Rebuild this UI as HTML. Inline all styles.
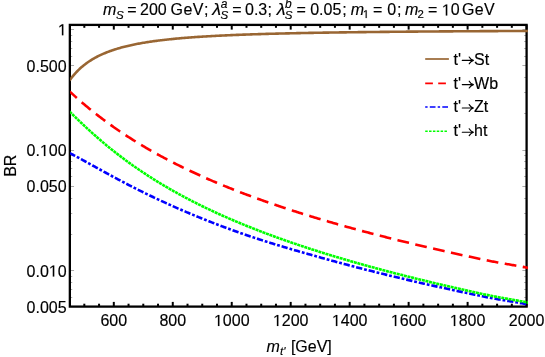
<!DOCTYPE html>
<html><head><meta charset="utf-8"><title>BR plot</title>
<style>html,body{margin:0;padding:0;background:#fff;}svg{display:block;will-change:transform;}text{font-family:"Liberation Sans",sans-serif;fill:#000;stroke:#000;stroke-width:0.15px;}</style></head><body>
<svg width="545" height="357" viewBox="0 0 545 357">
<rect x="0" y="0" width="545" height="357" fill="#fff"/>
<defs><clipPath id="c"><rect x="70.14999999999999" y="24.9" width="457.75" height="282.70000000000005"/></clipPath></defs>
<g stroke="#000" stroke-width="2"><line x1="84.32" y1="306.6" x2="84.32" y2="303.70000000000005"/><line x1="84.32" y1="24.9" x2="84.32" y2="27.799999999999997"/><line x1="99.06" y1="306.6" x2="99.06" y2="303.70000000000005"/><line x1="99.06" y1="24.9" x2="99.06" y2="27.799999999999997"/><line x1="113.80" y1="306.6" x2="113.80" y2="301.90000000000003"/><line x1="113.80" y1="24.9" x2="113.80" y2="29.599999999999998"/><line x1="128.54" y1="306.6" x2="128.54" y2="303.70000000000005"/><line x1="128.54" y1="24.9" x2="128.54" y2="27.799999999999997"/><line x1="143.28" y1="306.6" x2="143.28" y2="303.70000000000005"/><line x1="143.28" y1="24.9" x2="143.28" y2="27.799999999999997"/><line x1="158.03" y1="306.6" x2="158.03" y2="303.70000000000005"/><line x1="158.03" y1="24.9" x2="158.03" y2="27.799999999999997"/><line x1="172.77" y1="306.6" x2="172.77" y2="301.90000000000003"/><line x1="172.77" y1="24.9" x2="172.77" y2="29.599999999999998"/><line x1="187.51" y1="306.6" x2="187.51" y2="303.70000000000005"/><line x1="187.51" y1="24.9" x2="187.51" y2="27.799999999999997"/><line x1="202.25" y1="306.6" x2="202.25" y2="303.70000000000005"/><line x1="202.25" y1="24.9" x2="202.25" y2="27.799999999999997"/><line x1="216.99" y1="306.6" x2="216.99" y2="303.70000000000005"/><line x1="216.99" y1="24.9" x2="216.99" y2="27.799999999999997"/><line x1="231.74" y1="306.6" x2="231.74" y2="301.90000000000003"/><line x1="231.74" y1="24.9" x2="231.74" y2="29.599999999999998"/><line x1="246.48" y1="306.6" x2="246.48" y2="303.70000000000005"/><line x1="246.48" y1="24.9" x2="246.48" y2="27.799999999999997"/><line x1="261.22" y1="306.6" x2="261.22" y2="303.70000000000005"/><line x1="261.22" y1="24.9" x2="261.22" y2="27.799999999999997"/><line x1="275.96" y1="306.6" x2="275.96" y2="303.70000000000005"/><line x1="275.96" y1="24.9" x2="275.96" y2="27.799999999999997"/><line x1="290.70" y1="306.6" x2="290.70" y2="301.90000000000003"/><line x1="290.70" y1="24.9" x2="290.70" y2="29.599999999999998"/><line x1="305.45" y1="306.6" x2="305.45" y2="303.70000000000005"/><line x1="305.45" y1="24.9" x2="305.45" y2="27.799999999999997"/><line x1="320.19" y1="306.6" x2="320.19" y2="303.70000000000005"/><line x1="320.19" y1="24.9" x2="320.19" y2="27.799999999999997"/><line x1="334.93" y1="306.6" x2="334.93" y2="303.70000000000005"/><line x1="334.93" y1="24.9" x2="334.93" y2="27.799999999999997"/><line x1="349.67" y1="306.6" x2="349.67" y2="301.90000000000003"/><line x1="349.67" y1="24.9" x2="349.67" y2="29.599999999999998"/><line x1="364.41" y1="306.6" x2="364.41" y2="303.70000000000005"/><line x1="364.41" y1="24.9" x2="364.41" y2="27.799999999999997"/><line x1="379.16" y1="306.6" x2="379.16" y2="303.70000000000005"/><line x1="379.16" y1="24.9" x2="379.16" y2="27.799999999999997"/><line x1="393.90" y1="306.6" x2="393.90" y2="303.70000000000005"/><line x1="393.90" y1="24.9" x2="393.90" y2="27.799999999999997"/><line x1="408.64" y1="306.6" x2="408.64" y2="301.90000000000003"/><line x1="408.64" y1="24.9" x2="408.64" y2="29.599999999999998"/><line x1="423.38" y1="306.6" x2="423.38" y2="303.70000000000005"/><line x1="423.38" y1="24.9" x2="423.38" y2="27.799999999999997"/><line x1="438.12" y1="306.6" x2="438.12" y2="303.70000000000005"/><line x1="438.12" y1="24.9" x2="438.12" y2="27.799999999999997"/><line x1="452.87" y1="306.6" x2="452.87" y2="303.70000000000005"/><line x1="452.87" y1="24.9" x2="452.87" y2="27.799999999999997"/><line x1="467.61" y1="306.6" x2="467.61" y2="301.90000000000003"/><line x1="467.61" y1="24.9" x2="467.61" y2="29.599999999999998"/><line x1="482.35" y1="306.6" x2="482.35" y2="303.70000000000005"/><line x1="482.35" y1="24.9" x2="482.35" y2="27.799999999999997"/><line x1="497.09" y1="306.6" x2="497.09" y2="303.70000000000005"/><line x1="497.09" y1="24.9" x2="497.09" y2="27.799999999999997"/><line x1="511.83" y1="306.6" x2="511.83" y2="303.70000000000005"/><line x1="511.83" y1="24.9" x2="511.83" y2="27.799999999999997"/><line x1="526.58" y1="306.6" x2="526.58" y2="301.90000000000003"/><line x1="526.58" y1="24.9" x2="526.58" y2="29.599999999999998"/></g>
<g stroke="#555" stroke-width="0.5"><line x1="69.85" y1="29.50" x2="74.05" y2="29.50"/><line x1="526.6" y1="29.50" x2="522.4" y2="29.50"/><line x1="69.85" y1="65.50" x2="74.05" y2="65.50"/><line x1="526.6" y1="65.50" x2="522.4" y2="65.50"/><line x1="69.85" y1="150.50" x2="74.05" y2="150.50"/><line x1="526.6" y1="150.50" x2="522.4" y2="150.50"/><line x1="69.85" y1="186.50" x2="74.05" y2="186.50"/><line x1="526.6" y1="186.50" x2="522.4" y2="186.50"/><line x1="69.85" y1="270.50" x2="74.05" y2="270.50"/><line x1="526.6" y1="270.50" x2="522.4" y2="270.50"/><line x1="69.85" y1="306.50" x2="74.05" y2="306.50"/><line x1="526.6" y1="306.50" x2="522.4" y2="306.50"/><line x1="69.85" y1="35.50" x2="72.25" y2="35.50"/><line x1="526.6" y1="35.50" x2="524.2" y2="35.50"/><line x1="69.85" y1="41.50" x2="72.25" y2="41.50"/><line x1="526.6" y1="41.50" x2="524.2" y2="41.50"/><line x1="69.85" y1="48.50" x2="72.25" y2="48.50"/><line x1="526.6" y1="48.50" x2="524.2" y2="48.50"/><line x1="69.85" y1="56.50" x2="72.25" y2="56.50"/><line x1="526.6" y1="56.50" x2="524.2" y2="56.50"/><line x1="69.85" y1="77.50" x2="72.25" y2="77.50"/><line x1="526.6" y1="77.50" x2="524.2" y2="77.50"/><line x1="69.85" y1="92.50" x2="72.25" y2="92.50"/><line x1="526.6" y1="92.50" x2="524.2" y2="92.50"/><line x1="69.85" y1="113.50" x2="72.25" y2="113.50"/><line x1="526.6" y1="113.50" x2="524.2" y2="113.50"/><line x1="69.85" y1="155.50" x2="72.25" y2="155.50"/><line x1="526.6" y1="155.50" x2="524.2" y2="155.50"/><line x1="69.85" y1="161.50" x2="72.25" y2="161.50"/><line x1="526.6" y1="161.50" x2="524.2" y2="161.50"/><line x1="69.85" y1="168.50" x2="72.25" y2="168.50"/><line x1="526.6" y1="168.50" x2="524.2" y2="168.50"/><line x1="69.85" y1="176.50" x2="72.25" y2="176.50"/><line x1="526.6" y1="176.50" x2="524.2" y2="176.50"/><line x1="69.85" y1="198.50" x2="72.25" y2="198.50"/><line x1="526.6" y1="198.50" x2="524.2" y2="198.50"/><line x1="69.85" y1="213.50" x2="72.25" y2="213.50"/><line x1="526.6" y1="213.50" x2="524.2" y2="213.50"/><line x1="69.85" y1="234.50" x2="72.25" y2="234.50"/><line x1="526.6" y1="234.50" x2="524.2" y2="234.50"/><line x1="69.85" y1="276.50" x2="72.25" y2="276.50"/><line x1="526.6" y1="276.50" x2="524.2" y2="276.50"/><line x1="69.85" y1="282.50" x2="72.25" y2="282.50"/><line x1="526.6" y1="282.50" x2="524.2" y2="282.50"/><line x1="69.85" y1="289.50" x2="72.25" y2="289.50"/><line x1="526.6" y1="289.50" x2="524.2" y2="289.50"/><line x1="69.85" y1="297.50" x2="72.25" y2="297.50"/><line x1="526.6" y1="297.50" x2="524.2" y2="297.50"/></g>
<rect x="69.85" y="24.9" width="456.75" height="281.70000000000005" fill="none" stroke="#000" stroke-width="2.3"/>
<g clip-path="url(#c)" fill="none" stroke-linejoin="round">
<path d="M69.57,80.54 L70.67,79.01 L71.77,77.56 L72.87,76.17 L73.96,74.85 L75.06,73.59 L76.16,72.39 L77.26,71.24 L78.36,70.14 L79.45,69.08 L80.55,68.07 L81.65,67.10 L82.75,66.17 L83.84,65.27 L84.94,64.41 L86.04,63.58 L87.14,62.79 L88.24,62.02 L89.33,61.28 L90.43,60.56 L91.53,59.87 L92.63,59.21 L93.72,58.57 L94.82,57.95 L95.92,57.35 L97.02,56.77 L98.12,56.20 L99.21,55.66 L100.31,55.13 L101.41,54.62 L102.51,54.13 L103.60,53.65 L104.70,53.18 L105.80,52.73 L106.90,52.29 L107.99,51.87 L109.09,51.46 L110.19,51.05 L111.29,50.66 L112.39,50.29 L113.48,49.92 L114.58,49.56 L115.68,49.21 L116.78,48.87 L117.87,48.54 L118.97,48.22 L120.07,47.90 L121.17,47.60 L122.27,47.30 L123.36,47.01 L124.46,46.73 L125.56,46.45 L126.66,46.19 L127.75,45.92 L128.85,45.67 L129.95,45.42 L131.05,45.18 L132.14,44.94 L133.24,44.71 L134.34,44.48 L135.44,44.26 L136.54,44.04 L137.63,43.83 L138.73,43.62 L139.83,43.42 L140.93,43.22 L142.02,43.03 L143.12,42.84 L144.22,42.66 L145.32,42.48 L146.42,42.30 L147.51,42.13 L148.61,41.96 L149.71,41.79 L150.81,41.63 L151.90,41.47 L153.00,41.31 L154.10,41.16 L155.20,41.01 L156.29,40.86 L157.39,40.72 L158.49,40.58 L159.59,40.44 L160.69,40.31 L161.78,40.17 L162.88,40.04 L163.98,39.92 L165.08,39.79 L166.17,39.67 L167.27,39.55 L168.37,39.43 L169.47,39.31 L170.57,39.20 L171.66,39.09 L172.76,38.98 L173.86,38.87 L174.96,38.76 L176.05,38.66 L177.15,38.56 L178.25,38.46 L179.35,38.36 L180.45,38.26 L181.54,38.17 L182.64,38.07 L183.74,37.98 L184.84,37.89 L185.93,37.80 L187.03,37.72 L188.13,37.63 L189.23,37.55 L190.32,37.46 L191.42,37.38 L192.52,37.30 L193.62,37.22 L194.72,37.14 L195.81,37.07 L196.91,36.99 L198.01,36.92 L199.11,36.85 L200.20,36.77 L201.30,36.70 L202.40,36.63 L203.50,36.57 L204.60,36.50 L205.69,36.43 L206.79,36.37 L207.89,36.30 L208.99,36.24 L210.08,36.18 L211.18,36.12 L212.28,36.05 L213.38,35.99 L214.47,35.94 L215.57,35.88 L216.67,35.82 L217.77,35.76 L218.87,35.71 L219.96,35.65 L221.06,35.60 L222.16,35.55 L223.26,35.50 L224.35,35.44 L225.45,35.39 L226.55,35.34 L227.65,35.29 L228.75,35.24 L229.84,35.20 L230.94,35.15 L232.04,35.10 L233.14,35.06 L234.23,35.01 L235.33,34.97 L236.43,34.92 L237.53,34.88 L238.62,34.83 L239.72,34.79 L240.82,34.75 L241.92,34.71 L243.02,34.67 L244.11,34.63 L245.21,34.59 L246.31,34.55 L247.41,34.51 L248.50,34.47 L249.60,34.43 L250.70,34.39 L251.80,34.36 L252.90,34.32 L253.99,34.29 L255.09,34.25 L256.19,34.21 L257.29,34.18 L258.38,34.15 L259.48,34.11 L260.58,34.08 L261.68,34.04 L262.78,34.01 L263.87,33.98 L264.97,33.95 L266.07,33.92 L267.17,33.88 L268.26,33.85 L269.36,33.82 L270.46,33.79 L271.56,33.76 L272.65,33.73 L273.75,33.70 L274.85,33.68 L275.95,33.65 L277.05,33.62 L278.14,33.59 L279.24,33.56 L280.34,33.54 L281.44,33.51 L282.53,33.48 L283.63,33.46 L284.73,33.43 L285.83,33.41 L286.93,33.38 L288.02,33.35 L289.12,33.33 L290.22,33.31 L291.32,33.28 L292.41,33.26 L293.51,33.23 L294.61,33.21 L295.71,33.19 L296.80,33.16 L297.90,33.14 L299.00,33.12 L300.10,33.09 L301.20,33.07 L302.29,33.05 L303.39,33.03 L304.49,33.01 L305.59,32.99 L306.68,32.97 L307.78,32.94 L308.88,32.92 L309.98,32.90 L311.08,32.88 L312.17,32.86 L313.27,32.84 L314.37,32.82 L315.47,32.80 L316.56,32.78 L317.66,32.77 L318.76,32.75 L319.86,32.73 L320.96,32.71 L322.05,32.69 L323.15,32.67 L324.25,32.66 L325.35,32.64 L326.44,32.62 L327.54,32.60 L328.64,32.58 L329.74,32.57 L330.83,32.55 L331.93,32.53 L333.03,32.52 L334.13,32.50 L335.23,32.48 L336.32,32.47 L337.42,32.45 L338.52,32.44 L339.62,32.42 L340.71,32.40 L341.81,32.39 L342.91,32.37 L344.01,32.36 L345.11,32.34 L346.20,32.33 L347.30,32.31 L348.40,32.30 L349.50,32.28 L350.59,32.27 L351.69,32.26 L352.79,32.24 L353.89,32.23 L354.98,32.21 L356.08,32.20 L357.18,32.19 L358.28,32.17 L359.38,32.16 L360.47,32.15 L361.57,32.13 L362.67,32.12 L363.77,32.11 L364.86,32.09 L365.96,32.08 L367.06,32.07 L368.16,32.06 L369.26,32.04 L370.35,32.03 L371.45,32.02 L372.55,32.01 L373.65,31.99 L374.74,31.98 L375.84,31.97 L376.94,31.96 L378.04,31.95 L379.13,31.94 L380.23,31.92 L381.33,31.91 L382.43,31.90 L383.53,31.89 L384.62,31.88 L385.72,31.87 L386.82,31.86 L387.92,31.85 L389.01,31.84 L390.11,31.82 L391.21,31.81 L392.31,31.80 L393.41,31.79 L394.50,31.78 L395.60,31.77 L396.70,31.76 L397.80,31.75 L398.89,31.74 L399.99,31.73 L401.09,31.72 L402.19,31.71 L403.29,31.70 L404.38,31.69 L405.48,31.68 L406.58,31.67 L407.68,31.66 L408.77,31.66 L409.87,31.65 L410.97,31.64 L412.07,31.63 L413.16,31.62 L414.26,31.61 L415.36,31.60 L416.46,31.59 L417.56,31.58 L418.65,31.57 L419.75,31.57 L420.85,31.56 L421.95,31.55 L423.04,31.54 L424.14,31.53 L425.24,31.52 L426.34,31.51 L427.44,31.51 L428.53,31.50 L429.63,31.49 L430.73,31.48 L431.83,31.47 L432.92,31.47 L434.02,31.46 L435.12,31.45 L436.22,31.44 L437.31,31.43 L438.41,31.43 L439.51,31.42 L440.61,31.41 L441.71,31.40 L442.80,31.40 L443.90,31.39 L445.00,31.38 L446.10,31.37 L447.19,31.37 L448.29,31.36 L449.39,31.35 L450.49,31.35 L451.59,31.34 L452.68,31.33 L453.78,31.32 L454.88,31.32 L455.98,31.31 L457.07,31.30 L458.17,31.30 L459.27,31.29 L460.37,31.28 L461.46,31.28 L462.56,31.27 L463.66,31.26 L464.76,31.26 L465.86,31.25 L466.95,31.24 L468.05,31.24 L469.15,31.23 L470.25,31.22 L471.34,31.22 L472.44,31.21 L473.54,31.21 L474.64,31.20 L475.74,31.19 L476.83,31.19 L477.93,31.18 L479.03,31.18 L480.13,31.17 L481.22,31.16 L482.32,31.16 L483.42,31.15 L484.52,31.15 L485.62,31.14 L486.71,31.13 L487.81,31.13 L488.91,31.12 L490.01,31.12 L491.10,31.11 L492.20,31.11 L493.30,31.10 L494.40,31.09 L495.49,31.09 L496.59,31.08 L497.69,31.08 L498.79,31.07 L499.89,31.07 L500.98,31.06 L502.08,31.06 L503.18,31.05 L504.28,31.05 L505.37,31.04 L506.47,31.04 L507.57,31.03 L508.67,31.03 L509.77,31.02 L510.86,31.02 L511.96,31.01 L513.06,31.01 L514.16,31.00 L515.25,31.00 L516.35,30.99 L517.45,30.99 L518.55,30.98 L519.64,30.98 L520.74,30.97 L521.84,30.97 L522.94,30.96 L524.04,30.96 L525.13,30.95 L526.23,30.95 L527.33,30.94 L528.43,30.94 L529.52,30.93" stroke="#996633" stroke-width="2.6"/>
<path d="M69.57,91.35 L70.67,92.37 L71.77,93.39 L72.87,94.40 L73.96,95.40 L75.06,96.39 L76.16,97.38 L77.26,98.36 L78.36,99.33 L79.45,100.29 L80.55,101.25 L81.65,102.20 L82.75,103.14 L83.84,104.07 L84.94,105.00 L86.04,105.92 L87.14,106.84 L88.24,107.74 L89.33,108.65 L90.43,109.54 L91.53,110.43 L92.63,111.31 L93.72,112.19 L94.82,113.06 L95.92,113.92 L97.02,114.78 L98.12,115.63 L99.21,116.48 L100.31,117.31 L101.41,118.15 L102.51,118.98 L103.60,119.80 L104.70,120.61 L105.80,121.43 L106.90,122.23 L107.99,123.03 L109.09,123.83 L110.19,124.62 L111.29,125.40 L112.39,126.18 L113.48,126.95 L114.58,127.72 L115.68,128.48 L116.78,129.24 L117.87,130.00 L118.97,130.74 L120.07,131.49 L121.17,132.23 L122.27,132.96 L123.36,133.69 L124.46,134.42 L125.56,135.14 L126.66,135.85 L127.75,136.56 L128.85,137.27 L129.95,137.97 L131.05,138.67 L132.14,139.37 L133.24,140.06 L134.34,140.74 L135.44,141.42 L136.54,142.10 L137.63,142.77 L138.73,143.44 L139.83,144.11 L140.93,144.77 L142.02,145.42 L143.12,146.08 L144.22,146.73 L145.32,147.37 L146.42,148.02 L147.51,148.65 L148.61,149.29 L149.71,149.92 L150.81,150.55 L151.90,151.17 L153.00,151.79 L154.10,152.41 L155.20,153.02 L156.29,153.63 L157.39,154.24 L158.49,154.84 L159.59,155.44 L160.69,156.03 L161.78,156.63 L162.88,157.22 L163.98,157.80 L165.08,158.39 L166.17,158.97 L167.27,159.54 L168.37,160.12 L169.47,160.69 L170.57,161.26 L171.66,161.82 L172.76,162.38 L173.86,162.94 L174.96,163.50 L176.05,164.05 L177.15,164.60 L178.25,165.15 L179.35,165.70 L180.45,166.24 L181.54,166.78 L182.64,167.31 L183.74,167.85 L184.84,168.38 L185.93,168.91 L187.03,169.43 L188.13,169.96 L189.23,170.48 L190.32,171.00 L191.42,171.51 L192.52,172.02 L193.62,172.54 L194.72,173.04 L195.81,173.55 L196.91,174.05 L198.01,174.55 L199.11,175.05 L200.20,175.55 L201.30,176.04 L202.40,176.53 L203.50,177.02 L204.60,177.51 L205.69,178.00 L206.79,178.48 L207.89,178.96 L208.99,179.44 L210.08,179.91 L211.18,180.39 L212.28,180.86 L213.38,181.33 L214.47,181.79 L215.57,182.26 L216.67,182.72 L217.77,183.18 L218.87,183.64 L219.96,184.10 L221.06,184.56 L222.16,185.01 L223.26,185.46 L224.35,185.91 L225.45,186.36 L226.55,186.80 L227.65,187.25 L228.75,187.69 L229.84,188.13 L230.94,188.57 L232.04,189.00 L233.14,189.44 L234.23,189.87 L235.33,190.30 L236.43,190.73 L237.53,191.16 L238.62,191.58 L239.72,192.01 L240.82,192.43 L241.92,192.85 L243.02,193.27 L244.11,193.68 L245.21,194.10 L246.31,194.51 L247.41,194.92 L248.50,195.33 L249.60,195.74 L250.70,196.15 L251.80,196.56 L252.90,196.96 L253.99,197.36 L255.09,197.76 L256.19,198.16 L257.29,198.56 L258.38,198.96 L259.48,199.35 L260.58,199.75 L261.68,200.14 L262.78,200.53 L263.87,200.92 L264.97,201.30 L266.07,201.69 L267.17,202.08 L268.26,202.46 L269.36,202.84 L270.46,203.22 L271.56,203.60 L272.65,203.98 L273.75,204.35 L274.85,204.73 L275.95,205.10 L277.05,205.48 L278.14,205.85 L279.24,206.22 L280.34,206.59 L281.44,206.95 L282.53,207.32 L283.63,207.68 L284.73,208.05 L285.83,208.41 L286.93,208.77 L288.02,209.13 L289.12,209.49 L290.22,209.85 L291.32,210.20 L292.41,210.56 L293.51,210.91 L294.61,211.26 L295.71,211.61 L296.80,211.96 L297.90,212.31 L299.00,212.66 L300.10,213.01 L301.20,213.35 L302.29,213.70 L303.39,214.04 L304.49,214.38 L305.59,214.72 L306.68,215.06 L307.78,215.40 L308.88,215.74 L309.98,216.08 L311.08,216.41 L312.17,216.75 L313.27,217.08 L314.37,217.42 L315.47,217.75 L316.56,218.08 L317.66,218.41 L318.76,218.74 L319.86,219.06 L320.96,219.39 L322.05,219.72 L323.15,220.04 L324.25,220.37 L325.35,220.69 L326.44,221.01 L327.54,221.33 L328.64,221.65 L329.74,221.97 L330.83,222.29 L331.93,222.61 L333.03,222.92 L334.13,223.24 L335.23,223.55 L336.32,223.86 L337.42,224.18 L338.52,224.49 L339.62,224.80 L340.71,225.11 L341.81,225.42 L342.91,225.73 L344.01,226.03 L345.11,226.34 L346.20,226.65 L347.30,226.95 L348.40,227.26 L349.50,227.56 L350.59,227.86 L351.69,228.16 L352.79,228.46 L353.89,228.76 L354.98,229.06 L356.08,229.36 L357.18,229.66 L358.28,229.96 L359.38,230.25 L360.47,230.55 L361.57,230.84 L362.67,231.13 L363.77,231.43 L364.86,231.72 L365.96,232.01 L367.06,232.30 L368.16,232.59 L369.26,232.88 L370.35,233.17 L371.45,233.46 L372.55,233.74 L373.65,234.03 L374.74,234.31 L375.84,234.60 L376.94,234.88 L378.04,235.17 L379.13,235.45 L380.23,235.73 L381.33,236.01 L382.43,236.29 L383.53,236.57 L384.62,236.85 L385.72,237.13 L386.82,237.41 L387.92,237.69 L389.01,237.96 L390.11,238.24 L391.21,238.51 L392.31,238.79 L393.41,239.06 L394.50,239.34 L395.60,239.61 L396.70,239.88 L397.80,240.15 L398.89,240.42 L399.99,240.69 L401.09,240.96 L402.19,241.23 L403.29,241.50 L404.38,241.77 L405.48,242.04 L406.58,242.30 L407.68,242.57 L408.77,242.83 L409.87,243.10 L410.97,243.36 L412.07,243.63 L413.16,243.89 L414.26,244.15 L415.36,244.41 L416.46,244.67 L417.56,244.94 L418.65,245.20 L419.75,245.46 L420.85,245.71 L421.95,245.97 L423.04,246.23 L424.14,246.49 L425.24,246.75 L426.34,247.00 L427.44,247.26 L428.53,247.51 L429.63,247.77 L430.73,248.02 L431.83,248.28 L432.92,248.53 L434.02,248.78 L435.12,249.03 L436.22,249.29 L437.31,249.54 L438.41,249.79 L439.51,250.04 L440.61,250.29 L441.71,250.54 L442.80,250.78 L443.90,251.03 L445.00,251.28 L446.10,251.53 L447.19,251.77 L448.29,252.02 L449.39,252.27 L450.49,252.51 L451.59,252.76 L452.68,253.00 L453.78,253.24 L454.88,253.49 L455.98,253.73 L457.07,253.97 L458.17,254.22 L459.27,254.46 L460.37,254.70 L461.46,254.94 L462.56,255.18 L463.66,255.42 L464.76,255.66 L465.86,255.90 L466.95,256.14 L468.05,256.37 L469.15,256.61 L470.25,256.85 L471.34,257.09 L472.44,257.32 L473.54,257.56 L474.64,257.79 L475.74,258.03 L476.83,258.26 L477.93,258.50 L479.03,258.73 L480.13,258.96 L481.22,259.20 L482.32,259.43 L483.42,259.66 L484.52,259.89 L485.62,260.13 L486.71,260.35 L487.81,260.58 L488.91,260.79 L490.01,261.01 L491.10,261.22 L492.20,261.43 L493.30,261.64 L494.40,261.84 L495.49,262.04 L496.59,262.24 L497.69,262.44 L498.79,262.64 L499.89,262.83 L500.98,263.02 L502.08,263.21 L503.18,263.40 L504.28,263.59 L505.37,263.78 L506.47,263.97 L507.57,264.16 L508.67,264.34 L509.77,264.53 L510.86,264.72 L511.96,264.91 L513.06,265.10 L514.16,265.29 L515.25,265.48 L516.35,265.68 L517.45,265.87 L518.55,266.07 L519.64,266.27 L520.74,266.47 L521.84,266.68 L522.94,266.89 L524.04,267.10 L525.13,267.31 L526.23,267.53 L527.33,267.75 L528.43,267.96 L529.52,268.18" stroke="#ff0000" stroke-width="2.6" stroke-dasharray="11.8 6.5" stroke-dashoffset="2"/>
<path d="M69.57,153.03 L70.67,153.59 L71.77,154.16 L72.87,154.73 L73.96,155.31 L75.06,155.89 L76.16,156.48 L77.26,157.06 L78.36,157.66 L79.45,158.25 L80.55,158.85 L81.65,159.44 L82.75,160.04 L83.84,160.65 L84.94,161.25 L86.04,161.85 L87.14,162.46 L88.24,163.06 L89.33,163.67 L90.43,164.28 L91.53,164.89 L92.63,165.49 L93.72,166.10 L94.82,166.71 L95.92,167.32 L97.02,167.92 L98.12,168.53 L99.21,169.14 L100.31,169.74 L101.41,170.35 L102.51,170.95 L103.60,171.55 L104.70,172.16 L105.80,172.76 L106.90,173.36 L107.99,173.96 L109.09,174.55 L110.19,175.15 L111.29,175.75 L112.39,176.34 L113.48,176.93 L114.58,177.52 L115.68,178.11 L116.78,178.70 L117.87,179.28 L118.97,179.87 L120.07,180.45 L121.17,181.03 L122.27,181.61 L123.36,182.19 L124.46,182.76 L125.56,183.34 L126.66,183.91 L127.75,184.48 L128.85,185.05 L129.95,185.61 L131.05,186.18 L132.14,186.74 L133.24,187.30 L134.34,187.86 L135.44,188.41 L136.54,188.97 L137.63,189.52 L138.73,190.07 L139.83,190.62 L140.93,191.17 L142.02,191.71 L143.12,192.26 L144.22,192.80 L145.32,193.33 L146.42,193.87 L147.51,194.41 L148.61,194.94 L149.71,195.47 L150.81,196.00 L151.90,196.53 L153.00,197.05 L154.10,197.57 L155.20,198.09 L156.29,198.61 L157.39,199.13 L158.49,199.64 L159.59,200.16 L160.69,200.67 L161.78,201.18 L162.88,201.68 L163.98,202.19 L165.08,202.69 L166.17,203.19 L167.27,203.69 L168.37,204.19 L169.47,204.68 L170.57,205.18 L171.66,205.67 L172.76,206.16 L173.86,206.65 L174.96,207.13 L176.05,207.62 L177.15,208.10 L178.25,208.58 L179.35,209.06 L180.45,209.53 L181.54,210.01 L182.64,210.48 L183.74,210.95 L184.84,211.42 L185.93,211.89 L187.03,212.35 L188.13,212.82 L189.23,213.28 L190.32,213.74 L191.42,214.20 L192.52,214.65 L193.62,215.11 L194.72,215.56 L195.81,216.01 L196.91,216.46 L198.01,216.91 L199.11,217.36 L200.20,217.80 L201.30,218.25 L202.40,218.69 L203.50,219.13 L204.60,219.56 L205.69,220.00 L206.79,220.44 L207.89,220.87 L208.99,221.30 L210.08,221.73 L211.18,222.16 L212.28,222.59 L213.38,223.01 L214.47,223.43 L215.57,223.86 L216.67,224.28 L217.77,224.70 L218.87,225.11 L219.96,225.53 L221.06,225.94 L222.16,226.36 L223.26,226.77 L224.35,227.18 L225.45,227.59 L226.55,227.99 L227.65,228.40 L228.75,228.80 L229.84,229.21 L230.94,229.61 L232.04,230.01 L233.14,230.41 L234.23,230.80 L235.33,231.20 L236.43,231.59 L237.53,231.99 L238.62,232.37 L239.72,232.76 L240.82,233.15 L241.92,233.53 L243.02,233.91 L244.11,234.29 L245.21,234.67 L246.31,235.05 L247.41,235.42 L248.50,235.79 L249.60,236.17 L250.70,236.53 L251.80,236.90 L252.90,237.27 L253.99,237.63 L255.09,237.99 L256.19,238.35 L257.29,238.71 L258.38,239.07 L259.48,239.43 L260.58,239.78 L261.68,240.13 L262.78,240.49 L263.87,240.83 L264.97,241.18 L266.07,241.53 L267.17,241.88 L268.26,242.22 L269.36,242.56 L270.46,242.91 L271.56,243.25 L272.65,243.59 L273.75,243.92 L274.85,244.26 L275.95,244.60 L277.05,244.93 L278.14,245.26 L279.24,245.60 L280.34,245.93 L281.44,246.26 L282.53,246.59 L283.63,246.91 L284.73,247.24 L285.83,247.57 L286.93,247.89 L288.02,248.22 L289.12,248.54 L290.22,248.86 L291.32,249.18 L292.41,249.50 L293.51,249.82 L294.61,250.14 L295.71,250.46 L296.80,250.78 L297.90,251.10 L299.00,251.41 L300.10,251.73 L301.20,252.04 L302.29,252.36 L303.39,252.67 L304.49,252.99 L305.59,253.30 L306.68,253.61 L307.78,253.92 L308.88,254.23 L309.98,254.54 L311.08,254.85 L312.17,255.16 L313.27,255.47 L314.37,255.78 L315.47,256.09 L316.56,256.40 L317.66,256.71 L318.76,257.02 L319.86,257.33 L320.96,257.63 L322.05,257.94 L323.15,258.25 L324.25,258.56 L325.35,258.86 L326.44,259.17 L327.54,259.47 L328.64,259.78 L329.74,260.08 L330.83,260.39 L331.93,260.69 L333.03,260.99 L334.13,261.29 L335.23,261.59 L336.32,261.89 L337.42,262.19 L338.52,262.49 L339.62,262.78 L340.71,263.08 L341.81,263.37 L342.91,263.67 L344.01,263.96 L345.11,264.26 L346.20,264.55 L347.30,264.84 L348.40,265.13 L349.50,265.42 L350.59,265.71 L351.69,266.00 L352.79,266.29 L353.89,266.57 L354.98,266.86 L356.08,267.15 L357.18,267.43 L358.28,267.72 L359.38,268.00 L360.47,268.28 L361.57,268.57 L362.67,268.85 L363.77,269.13 L364.86,269.41 L365.96,269.69 L367.06,269.97 L368.16,270.25 L369.26,270.52 L370.35,270.80 L371.45,271.08 L372.55,271.35 L373.65,271.63 L374.74,271.90 L375.84,272.18 L376.94,272.45 L378.04,272.72 L379.13,273.00 L380.23,273.27 L381.33,273.54 L382.43,273.81 L383.53,274.08 L384.62,274.35 L385.72,274.62 L386.82,274.88 L387.92,275.15 L389.01,275.42 L390.11,275.68 L391.21,275.95 L392.31,276.21 L393.41,276.48 L394.50,276.74 L395.60,277.01 L396.70,277.27 L397.80,277.53 L398.89,277.79 L399.99,278.05 L401.09,278.31 L402.19,278.57 L403.29,278.83 L404.38,279.09 L405.48,279.35 L406.58,279.61 L407.68,279.87 L408.77,280.12 L409.87,280.38 L410.97,280.63 L412.07,280.89 L413.16,281.14 L414.26,281.40 L415.36,281.65 L416.46,281.90 L417.56,282.16 L418.65,282.41 L419.75,282.66 L420.85,282.91 L421.95,283.16 L423.04,283.41 L424.14,283.66 L425.24,283.91 L426.34,284.16 L427.44,284.41 L428.53,284.65 L429.63,284.90 L430.73,285.15 L431.83,285.40 L432.92,285.64 L434.02,285.89 L435.12,286.13 L436.22,286.38 L437.31,286.62 L438.41,286.86 L439.51,287.11 L440.61,287.35 L441.71,287.59 L442.80,287.83 L443.90,288.07 L445.00,288.31 L446.10,288.55 L447.19,288.79 L448.29,289.03 L449.39,289.27 L450.49,289.51 L451.59,289.75 L452.68,289.99 L453.78,290.22 L454.88,290.46 L455.98,290.70 L457.07,290.93 L458.17,291.17 L459.27,291.40 L460.37,291.64 L461.46,291.87 L462.56,292.11 L463.66,292.34 L464.76,292.57 L465.86,292.81 L466.95,293.04 L468.05,293.27 L469.15,293.50 L470.25,293.73 L471.34,293.97 L472.44,294.20 L473.54,294.43 L474.64,294.66 L475.74,294.88 L476.83,295.11 L477.93,295.34 L479.03,295.57 L480.13,295.80 L481.22,296.03 L482.32,296.25 L483.42,296.48 L484.52,296.71 L485.62,296.93 L486.71,297.15 L487.81,297.37 L488.91,297.58 L490.01,297.79 L491.10,298.00 L492.20,298.21 L493.30,298.41 L494.40,298.61 L495.49,298.80 L496.59,299.00 L497.69,299.19 L498.79,299.38 L499.89,299.57 L500.98,299.75 L502.08,299.94 L503.18,300.12 L504.28,300.31 L505.37,300.49 L506.47,300.68 L507.57,300.86 L508.67,301.04 L509.77,301.23 L510.86,301.41 L511.96,301.59 L513.06,301.78 L514.16,301.97 L515.25,302.15 L516.35,302.34 L517.45,302.53 L518.55,302.73 L519.64,302.92 L520.74,303.12 L521.84,303.32 L522.94,303.52 L524.04,303.73 L525.13,303.94 L526.23,304.15 L527.33,304.36 L528.43,304.58 L529.52,304.79" stroke="#0000ff" stroke-width="2.6" stroke-dasharray="6.3 1.9 2.8 1.9" stroke-dashoffset="0"/>
<path d="M69.57,111.51 L70.67,112.60 L71.77,113.68 L72.87,114.76 L73.96,115.83 L75.06,116.90 L76.16,117.97 L77.26,119.03 L78.36,120.09 L79.45,121.14 L80.55,122.19 L81.65,123.23 L82.75,124.27 L83.84,125.30 L84.94,126.33 L86.04,127.35 L87.14,128.37 L88.24,129.38 L89.33,130.38 L90.43,131.38 L91.53,132.37 L92.63,133.36 L93.72,134.34 L94.82,135.31 L95.92,136.28 L97.02,137.24 L98.12,138.20 L99.21,139.15 L100.31,140.09 L101.41,141.03 L102.51,141.96 L103.60,142.88 L104.70,143.80 L105.80,144.72 L106.90,145.63 L107.99,146.53 L109.09,147.42 L110.19,148.31 L111.29,149.20 L112.39,150.08 L113.48,150.95 L114.58,151.82 L115.68,152.68 L116.78,153.53 L117.87,154.38 L118.97,155.23 L120.07,156.07 L121.17,156.90 L122.27,157.73 L123.36,158.55 L124.46,159.37 L125.56,160.18 L126.66,160.98 L127.75,161.78 L128.85,162.58 L129.95,163.37 L131.05,164.16 L132.14,164.94 L133.24,165.71 L134.34,166.48 L135.44,167.25 L136.54,168.01 L137.63,168.76 L138.73,169.52 L139.83,170.26 L140.93,171.00 L142.02,171.74 L143.12,172.47 L144.22,173.20 L145.32,173.92 L146.42,174.64 L147.51,175.36 L148.61,176.07 L149.71,176.77 L150.81,177.47 L151.90,178.17 L153.00,178.86 L154.10,179.55 L155.20,180.23 L156.29,180.91 L157.39,181.59 L158.49,182.26 L159.59,182.93 L160.69,183.59 L161.78,184.25 L162.88,184.91 L163.98,185.56 L165.08,186.21 L166.17,186.85 L167.27,187.49 L168.37,188.13 L169.47,188.76 L170.57,189.39 L171.66,190.02 L172.76,190.64 L173.86,191.26 L174.96,191.88 L176.05,192.49 L177.15,193.10 L178.25,193.70 L179.35,194.31 L180.45,194.90 L181.54,195.50 L182.64,196.09 L183.74,196.68 L184.84,197.27 L185.93,197.85 L187.03,198.43 L188.13,199.00 L189.23,199.58 L190.32,200.14 L191.42,200.71 L192.52,201.28 L193.62,201.84 L194.72,202.39 L195.81,202.95 L196.91,203.50 L198.01,204.05 L199.11,204.60 L200.20,205.14 L201.30,205.68 L202.40,206.22 L203.50,206.75 L204.60,207.29 L205.69,207.82 L206.79,208.34 L207.89,208.87 L208.99,209.39 L210.08,209.91 L211.18,210.43 L212.28,210.94 L213.38,211.45 L214.47,211.96 L215.57,212.47 L216.67,212.97 L217.77,213.47 L218.87,213.97 L219.96,214.47 L221.06,214.96 L222.16,215.46 L223.26,215.95 L224.35,216.43 L225.45,216.92 L226.55,217.40 L227.65,217.88 L228.75,218.36 L229.84,218.84 L230.94,219.31 L232.04,219.78 L233.14,220.25 L234.23,220.72 L235.33,221.19 L236.43,221.65 L237.53,222.11 L238.62,222.57 L239.72,223.03 L240.82,223.48 L241.92,223.94 L243.02,224.39 L244.11,224.84 L245.21,225.29 L246.31,225.73 L247.41,226.17 L248.50,226.62 L249.60,227.06 L250.70,227.49 L251.80,227.93 L252.90,228.36 L253.99,228.80 L255.09,229.23 L256.19,229.66 L257.29,230.08 L258.38,230.51 L259.48,230.93 L260.58,231.35 L261.68,231.77 L262.78,232.19 L263.87,232.61 L264.97,233.02 L266.07,233.44 L267.17,233.85 L268.26,234.26 L269.36,234.67 L270.46,235.07 L271.56,235.48 L272.65,235.88 L273.75,236.28 L274.85,236.69 L275.95,237.08 L277.05,237.48 L278.14,237.88 L279.24,238.27 L280.34,238.66 L281.44,239.06 L282.53,239.45 L283.63,239.83 L284.73,240.22 L285.83,240.61 L286.93,240.99 L288.02,241.37 L289.12,241.75 L290.22,242.13 L291.32,242.51 L292.41,242.89 L293.51,243.27 L294.61,243.64 L295.71,244.01 L296.80,244.38 L297.90,244.76 L299.00,245.12 L300.10,245.49 L301.20,245.86 L302.29,246.22 L303.39,246.59 L304.49,246.95 L305.59,247.31 L306.68,247.67 L307.78,248.03 L308.88,248.39 L309.98,248.74 L311.08,249.10 L312.17,249.45 L313.27,249.81 L314.37,250.16 L315.47,250.51 L316.56,250.86 L317.66,251.21 L318.76,251.55 L319.86,251.90 L320.96,252.24 L322.05,252.59 L323.15,252.93 L324.25,253.27 L325.35,253.61 L326.44,253.95 L327.54,254.29 L328.64,254.63 L329.74,254.96 L330.83,255.30 L331.93,255.63 L333.03,255.96 L334.13,256.30 L335.23,256.63 L336.32,256.96 L337.42,257.29 L338.52,257.61 L339.62,257.94 L340.71,258.27 L341.81,258.59 L342.91,258.91 L344.01,259.24 L345.11,259.56 L346.20,259.88 L347.30,260.20 L348.40,260.52 L349.50,260.84 L350.59,261.15 L351.69,261.47 L352.79,261.78 L353.89,262.10 L354.98,262.41 L356.08,262.72 L357.18,263.04 L358.28,263.35 L359.38,263.66 L360.47,263.97 L361.57,264.27 L362.67,264.58 L363.77,264.89 L364.86,265.19 L365.96,265.50 L367.06,265.80 L368.16,266.10 L369.26,266.41 L370.35,266.71 L371.45,267.01 L372.55,267.31 L373.65,267.61 L374.74,267.91 L375.84,268.20 L376.94,268.50 L378.04,268.80 L379.13,269.09 L380.23,269.38 L381.33,269.68 L382.43,269.97 L383.53,270.26 L384.62,270.55 L385.72,270.84 L386.82,271.13 L387.92,271.42 L389.01,271.71 L390.11,272.00 L391.21,272.28 L392.31,272.57 L393.41,272.86 L394.50,273.14 L395.60,273.42 L396.70,273.71 L397.80,273.99 L398.89,274.27 L399.99,274.55 L401.09,274.83 L402.19,275.11 L403.29,275.39 L404.38,275.67 L405.48,275.95 L406.58,276.22 L407.68,276.50 L408.77,276.78 L409.87,277.05 L410.97,277.32 L412.07,277.60 L413.16,277.87 L414.26,278.14 L415.36,278.42 L416.46,278.69 L417.56,278.96 L418.65,279.23 L419.75,279.50 L420.85,279.76 L421.95,280.03 L423.04,280.30 L424.14,280.57 L425.24,280.83 L426.34,281.10 L427.44,281.36 L428.53,281.63 L429.63,281.89 L430.73,282.15 L431.83,282.42 L432.92,282.68 L434.02,282.94 L435.12,283.20 L436.22,283.46 L437.31,283.72 L438.41,283.98 L439.51,284.24 L440.61,284.50 L441.71,284.76 L442.80,285.01 L443.90,285.27 L445.00,285.53 L446.10,285.78 L447.19,286.04 L448.29,286.29 L449.39,286.54 L450.49,286.80 L451.59,287.05 L452.68,287.30 L453.78,287.55 L454.88,287.81 L455.98,288.06 L457.07,288.31 L458.17,288.56 L459.27,288.81 L460.37,289.05 L461.46,289.30 L462.56,289.55 L463.66,289.80 L464.76,290.04 L465.86,290.29 L466.95,290.54 L468.05,290.78 L469.15,291.03 L470.25,291.27 L471.34,291.52 L472.44,291.76 L473.54,292.00 L474.64,292.24 L475.74,292.49 L476.83,292.73 L477.93,292.97 L479.03,293.21 L480.13,293.45 L481.22,293.69 L482.32,293.93 L483.42,294.17 L484.52,294.41 L485.62,294.64 L486.71,294.88 L487.81,295.11 L488.91,295.33 L490.01,295.56 L491.10,295.78 L492.20,295.99 L493.30,296.20 L494.40,296.41 L495.49,296.62 L496.59,296.83 L497.69,297.03 L498.79,297.23 L499.89,297.43 L500.98,297.63 L502.08,297.83 L503.18,298.02 L504.28,298.22 L505.37,298.41 L506.47,298.61 L507.57,298.80 L508.67,299.00 L509.77,299.19 L510.86,299.38 L511.96,299.58 L513.06,299.78 L514.16,299.97 L515.25,300.17 L516.35,300.37 L517.45,300.57 L518.55,300.78 L519.64,300.98 L520.74,301.19 L521.84,301.40 L522.94,301.61 L524.04,301.83 L525.13,302.05 L526.23,302.27 L527.33,302.49 L528.43,302.72 L529.52,302.94" stroke="#00ff00" stroke-width="2.6" stroke-dasharray="3.05 0.65"/>
</g>
<path transform="translate(57.90,35.30) scale(0.007812,-0.007812)" d="M515 0V1237L197 1010V1180L530 1409H696V0Z" fill="#000" stroke="#000" stroke-width="19.2"/>
<text x="26.56" y="72.14" font-size="16">0.500</text>
<text x="26.56" y="156.00" font-size="16">0.</text><path transform="translate(39.90,156.00) scale(0.007812,-0.007812)" d="M515 0V1237L197 1010V1180L530 1409H696V0Z" fill="#000" stroke="#000" stroke-width="19.2"/><text x="48.80" y="156.00" font-size="16">00</text>
<text x="26.56" y="192.34" font-size="16">0.050</text>
<text x="26.56" y="276.50" font-size="16">0.0</text><path transform="translate(48.80,276.50) scale(0.007812,-0.007812)" d="M515 0V1237L197 1010V1180L530 1409H696V0Z" fill="#000" stroke="#000" stroke-width="19.2"/><text x="57.70" y="276.50" font-size="16">0</text>
<text x="26.56" y="313.24" font-size="16">0.005</text>
<text x="100.45" y="326.00" font-size="16">600</text>
<text x="159.42" y="326.00" font-size="16">800</text>
<path transform="translate(213.94,326.00) scale(0.007812,-0.007812)" d="M515 0V1237L197 1010V1180L530 1409H696V0Z" fill="#000" stroke="#000" stroke-width="19.2"/><text x="222.84" y="326.00" font-size="16">000</text>
<path transform="translate(272.91,326.00) scale(0.007812,-0.007812)" d="M515 0V1237L197 1010V1180L530 1409H696V0Z" fill="#000" stroke="#000" stroke-width="19.2"/><text x="281.81" y="326.00" font-size="16">200</text>
<path transform="translate(331.88,326.00) scale(0.007812,-0.007812)" d="M515 0V1237L197 1010V1180L530 1409H696V0Z" fill="#000" stroke="#000" stroke-width="19.2"/><text x="340.77" y="326.00" font-size="16">400</text>
<path transform="translate(390.84,326.00) scale(0.007812,-0.007812)" d="M515 0V1237L197 1010V1180L530 1409H696V0Z" fill="#000" stroke="#000" stroke-width="19.2"/><text x="399.74" y="326.00" font-size="16">600</text>
<path transform="translate(449.81,326.00) scale(0.007812,-0.007812)" d="M515 0V1237L197 1010V1180L530 1409H696V0Z" fill="#000" stroke="#000" stroke-width="19.2"/><text x="458.71" y="326.00" font-size="16">800</text>
<text x="508.78" y="326.00" font-size="16">2000</text>
<text transform="translate(15.7,165.7) rotate(-90)" font-size="16" text-anchor="middle">BR</text>
<text x="266.6" y="351.8" font-size="16" font-style="italic">m</text>
<text x="280.0" y="354.7" font-size="11.6" font-style="italic">t'</text>
<text x="290.9" y="351.8" font-size="16">[GeV]</text>
<text x="103.1" y="15.4" font-size="16" font-style="italic">m</text>
<text x="116.0" y="18.9" font-size="11.6" font-style="italic">S</text>
<text x="127.3" y="15.4" font-size="16">=</text>
<text x="140.0" y="15.4" font-size="16">200</text>
<text x="170.6" y="15.4" font-size="16" letter-spacing="0.4">GeV</text>
<text x="204.0" y="15.4" font-size="16">;</text>
<text transform="translate(212.2,15.4) scale(1.12,1)" font-size="16" font-style="italic">λ</text>
<text x="220.7" y="7.9" font-size="12" font-style="italic">a</text>
<text x="220.4" y="18.9" font-size="11.6" font-style="italic">S</text>
<text x="232.2" y="15.4" font-size="16">=</text>
<text x="245.0" y="15.4" font-size="16">0.3</text>
<text x="267.6" y="15.4" font-size="16">;</text>
<text transform="translate(276.7,15.4) scale(1.12,1)" font-size="16" font-style="italic">λ</text>
<text x="285.0" y="7.9" font-size="12" font-style="italic">b</text>
<text x="284.7" y="18.9" font-size="11.6" font-style="italic">S</text>
<text x="296.5" y="15.4" font-size="16">=</text>
<text x="310.2" y="15.4" font-size="16">0.05</text>
<text x="342.2" y="15.4" font-size="16">;</text>
<text x="350.7" y="15.4" font-size="16" font-style="italic">m</text>
<path transform="translate(362.80,18.10) scale(0.005566,-0.005566)" d="M515 0V1237L197 1010V1180L530 1409H696V0Z" fill="#000" stroke="#000" stroke-width="26.9"/>
<text x="373.0" y="15.4" font-size="16">=</text>
<text x="387.2" y="15.4" font-size="16">0</text>
<text x="397.0" y="15.4" font-size="16">;</text>
<text x="405.0" y="15.4" font-size="16" font-style="italic">m</text>
<text x="417.4" y="18.1" font-size="11.4">2</text>
<text x="428.0" y="15.4" font-size="16">=</text>
<path transform="translate(441.80,15.40) scale(0.007812,-0.007812)" d="M515 0V1237L197 1010V1180L530 1409H696V0Z" fill="#000" stroke="#000" stroke-width="19.2"/><text x="450.70" y="15.40" font-size="16">0</text>
<text x="461.9" y="15.4" font-size="16" letter-spacing="0.4">GeV</text>
<line x1="425.2" y1="59.0" x2="448.9" y2="59.0" stroke="#996633" stroke-width="1.7"/>
<text x="453.5" y="64.5" font-size="16">t'</text>
<path d="M462.3,60.40 H473 M469.2,57.00 Q470.6,59.50 473.4,60.40 Q470.6,61.30 469.2,63.80" fill="none" stroke="#000" stroke-width="1.15" stroke-linecap="round" stroke-linejoin="round"/>
<text x="474.1" y="64.5" font-size="16">St</text>
<line x1="425.2" y1="83.3" x2="448.9" y2="83.3" stroke="#ff0000" stroke-width="1.7" stroke-dasharray="7.7 5.3"/>
<text x="453.5" y="88.7" font-size="16">t'</text>
<path d="M462.3,84.60 H473 M469.2,81.20 Q470.6,83.70 473.4,84.60 Q470.6,85.50 469.2,88.00" fill="none" stroke="#000" stroke-width="1.15" stroke-linecap="round" stroke-linejoin="round"/>
<text x="474.1" y="88.7" font-size="16">Wb</text>
<line x1="425.2" y1="107.0" x2="448.9" y2="107.0" stroke="#0000ff" stroke-width="1.7" stroke-dasharray="2.4 2.2 5.7 2.2"/>
<text x="453.5" y="112.1" font-size="16">t'</text>
<path d="M462.3,108.00 H473 M469.2,104.60 Q470.6,107.10 473.4,108.00 Q470.6,108.90 469.2,111.40" fill="none" stroke="#000" stroke-width="1.15" stroke-linecap="round" stroke-linejoin="round"/>
<text x="474.1" y="112.1" font-size="16">Zt</text>
<line x1="425.2" y1="131.25" x2="447.0" y2="131.25" stroke="#00ff00" stroke-width="1.7" stroke-dasharray="2.5 1.35"/>
<text x="453.5" y="136.3" font-size="16">t'</text>
<path d="M462.3,132.20 H473 M469.2,128.80 Q470.6,131.30 473.4,132.20 Q470.6,133.10 469.2,135.60" fill="none" stroke="#000" stroke-width="1.15" stroke-linecap="round" stroke-linejoin="round"/>
<text x="474.1" y="136.3" font-size="16">ht</text>
</svg></body></html>
